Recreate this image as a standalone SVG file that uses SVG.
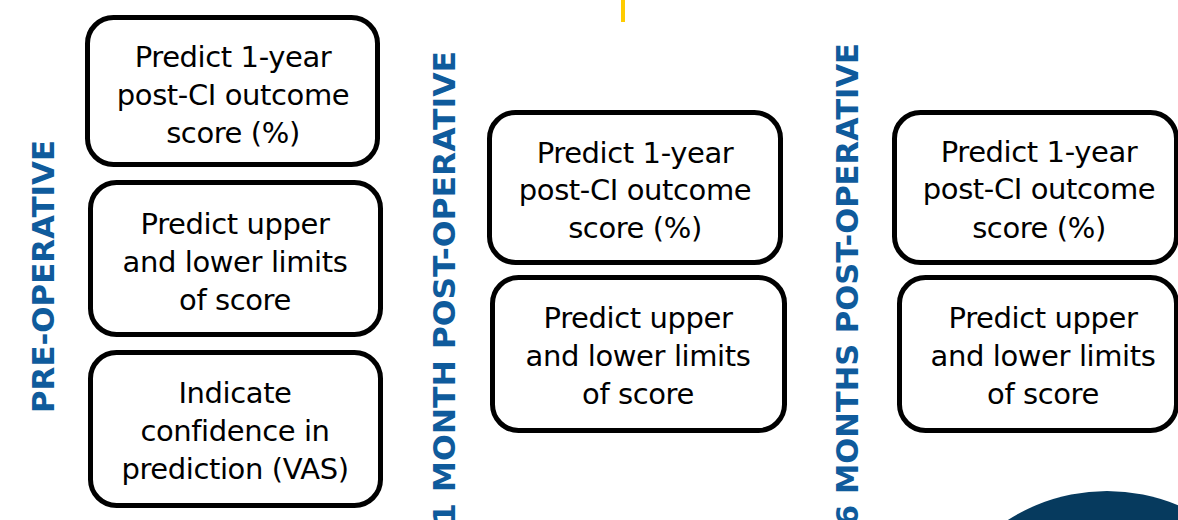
<svg xmlns="http://www.w3.org/2000/svg" width="1178" height="520" viewBox="0 0 1178 520">
  <style>
    .box { fill: #ffffff; stroke: #000000; stroke-width: 5; }
    .txt { font-family: "DejaVu Sans", Verdana, sans-serif; font-size: 29px; letter-spacing: -0.4px; fill: #000000; text-anchor: middle; }
    .phase { font-family: "DejaVu Sans", Verdana, sans-serif; font-weight: bold; font-size: 31px; fill: #0f5b9c; }
  </style>
  <rect width="1178" height="520" fill="#ffffff"/>

  <!-- decorative accents -->
  <line x1="623" y1="0" x2="623" y2="22" stroke="#ffcc00" stroke-width="4"/>
  <circle cx="1107" cy="675" r="184" fill="#063a5e"/>

  <!-- phase labels -->
  <text id="label-pre" class="phase" transform="translate(54,413) rotate(-90)" textLength="273" lengthAdjust="spacingAndGlyphs">PRE-OPERATIVE</text>
  <text id="label-1m" class="phase" transform="translate(455,525) rotate(-90)" textLength="474" lengthAdjust="spacingAndGlyphs">1 MONTH POST-OPERATIVE</text>
  <text id="label-6m" class="phase" transform="translate(858,526) rotate(-90)" textLength="483" lengthAdjust="spacingAndGlyphs">6 MONTHS POST-OPERATIVE</text>

  <!-- pre-operative tasks -->
  <g id="pre-predict">
    <rect class="box" x="87.5" y="17.5" width="290" height="147" rx="26"/>
    <text class="txt" x="233" y="67">Predict 1-year</text>
    <text class="txt" x="233" y="105">post-CI outcome</text>
    <text class="txt" x="233" y="143">score (%)</text>
  </g>
  <g id="pre-limits">
    <rect class="box" x="90.5" y="182.5" width="290" height="152" rx="26"/>
    <text class="txt" x="235" y="234">Predict upper</text>
    <text class="txt" x="235" y="272">and lower limits</text>
    <text class="txt" x="235" y="310">of score</text>
  </g>
  <g id="pre-confidence">
    <rect class="box" x="90.5" y="352.5" width="290" height="153" rx="26"/>
    <text class="txt" x="235" y="403">Indicate</text>
    <text class="txt" x="235" y="441">confidence in</text>
    <text class="txt" x="235" y="479">prediction (VAS)</text>
  </g>

  <!-- 1 month post-operative tasks -->
  <g id="m1-predict">
    <rect class="box" x="489.5" y="112.5" width="291" height="150" rx="26"/>
    <text class="txt" x="635" y="163">Predict 1-year</text>
    <text class="txt" x="635" y="200">post-CI outcome</text>
    <text class="txt" x="635" y="238">score (%)</text>
  </g>
  <g id="m1-limits">
    <rect class="box" x="492.5" y="277.5" width="292" height="153" rx="26"/>
    <text class="txt" x="638" y="328">Predict upper</text>
    <text class="txt" x="638" y="366">and lower limits</text>
    <text class="txt" x="638" y="404">of score</text>
  </g>

  <!-- 6 months post-operative tasks -->
  <g id="m6-predict">
    <rect class="box" x="894.5" y="112.5" width="282" height="150" rx="26"/>
    <text class="txt" x="1039" y="162">Predict 1-year</text>
    <text class="txt" x="1039" y="199">post-CI outcome</text>
    <text class="txt" x="1039" y="238">score (%)</text>
  </g>
  <g id="m6-limits">
    <rect class="box" x="899.5" y="277.5" width="277" height="153" rx="26"/>
    <text class="txt" x="1043" y="328">Predict upper</text>
    <text class="txt" x="1043" y="366">and lower limits</text>
    <text class="txt" x="1043" y="404">of score</text>
  </g>

  <!-- no connectors between the tasks -->
  <g id="connectors"/>
</svg>
